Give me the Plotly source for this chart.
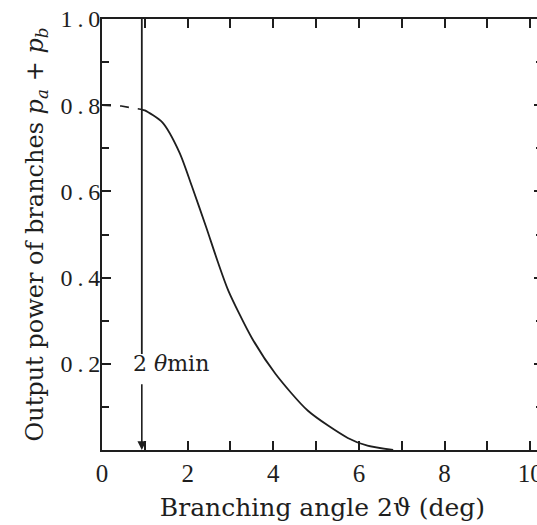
import plotly.graph_objects as go

# --- data ---
theta_min = 0.93                      # 2θmin position (deg)
dash_x = [0.0, 0.45, 0.93]            # dashed extrapolation
dash_y = [0.80, 0.798, 0.79]
curve_x = [0.93, 1.0, 1.41, 1.81, 2.11, 2.43, 2.70, 2.95, 3.50, 4.05, 4.81, 5.74, 6.20, 6.8]
curve_y = [0.79, 0.788, 0.760, 0.690, 0.609, 0.518, 0.438, 0.370, 0.260, 0.177, 0.091, 0.028, 0.010, 0.0]
vline_top = [1.0, 0.223]              # upper part of the 2θmin marker line
arrow_from, arrow_to = 0.156, 0.0     # lower part (arrow)
label_xy = (1.6, 0.2)

x_tickvals = [0, 2, 4, 6, 8, 10]
x_ticktext = ["0", "2", "4", "6", "8", "10"]
y_tickvals = [0.2, 0.4, 0.6, 0.8, 1.0]
y_ticktext = ["0\u2009.\u20092", "0\u2009.\u20094", "0\u2009.\u20096", "0\u2009.\u20098", "1\u2009.\u20090"]

ink = "#1e1e1e"
serif = "Liberation Serif"
serif2 = "DejaVu Serif"

fig = go.Figure()
fig.add_trace(go.Scatter(x=dash_x, y=dash_y, mode="lines",
                         line=dict(color=ink, width=1.6, dash="dash"), hoverinfo="skip"))
fig.add_trace(go.Scatter(x=curve_x, y=curve_y, mode="lines",
                         line=dict(color=ink, width=1.8, shape="spline", smoothing=0.7),
                         hoverinfo="skip"))
fig.add_trace(go.Scatter(x=[theta_min, theta_min], y=vline_top, mode="lines",
                         line=dict(color=ink, width=1.8), hoverinfo="skip"))

fig.add_annotation(x=theta_min, y=arrow_to, ax=theta_min, ay=arrow_from,
                   xref="x", yref="y", axref="x", ayref="y",
                   showarrow=True, arrowhead=2, arrowsize=1.1, arrowwidth=1.6,
                   arrowcolor=ink, text="")
fig.add_annotation(x=label_xy[0], y=label_xy[1], xref="x", yref="y",
                   text="2 <i>θ</i>min", showarrow=False,
                   font=dict(family=serif2, size=22, color=ink))

fig.update_layout(
    width=545, height=525,
    margin=dict(l=102, r=0, t=19, b=75),
    paper_bgcolor="white", plot_bgcolor="white",
    showlegend=False,
    xaxis=dict(
        range=[0, 10.3], tickvals=x_tickvals, ticktext=x_ticktext,
        ticks="inside", ticklen=9, tickwidth=1.5, tickcolor=ink,
        minor=dict(dtick=1, ticks="inside", ticklen=9, tickwidth=1.5, tickcolor=ink),
        showline=True, linewidth=2, linecolor=ink, mirror="ticks",
        showgrid=False, zeroline=False, ticklabeloverflow="allow",
        tickfont=dict(family=serif, size=25, color=ink),
        title=dict(text="Branching angle 2ϑ (deg)", standoff=12,
                   font=dict(family=serif2, size=25, color=ink)),
    ),
    yaxis=dict(
        range=[0, 1.0], tickvals=y_tickvals, ticktext=y_ticktext,
        ticks="inside", ticklen=9, tickwidth=1.5, tickcolor=ink,
        minor=dict(dtick=0.1, ticks="inside", ticklen=7, tickwidth=1.5, tickcolor=ink),
        showline=True, linewidth=2, linecolor=ink, mirror="ticks",
        showgrid=False, zeroline=False, ticklabelstandoff=-5,
        tickfont=dict(family=serif, size=24, color=ink),
        title=dict(text="Output power of branches <i>p</i><sub><i>a</i></sub> + <i>p</i><sub><i>b</i></sub>",
                   standoff=10, font=dict(family=serif2, size=24, color=ink)),
    ),
)

fig.write_html("out.html", config={"displayModeBar": False},
               post_script="document.body.style.margin='0';document.body.style.overflow='hidden';")
